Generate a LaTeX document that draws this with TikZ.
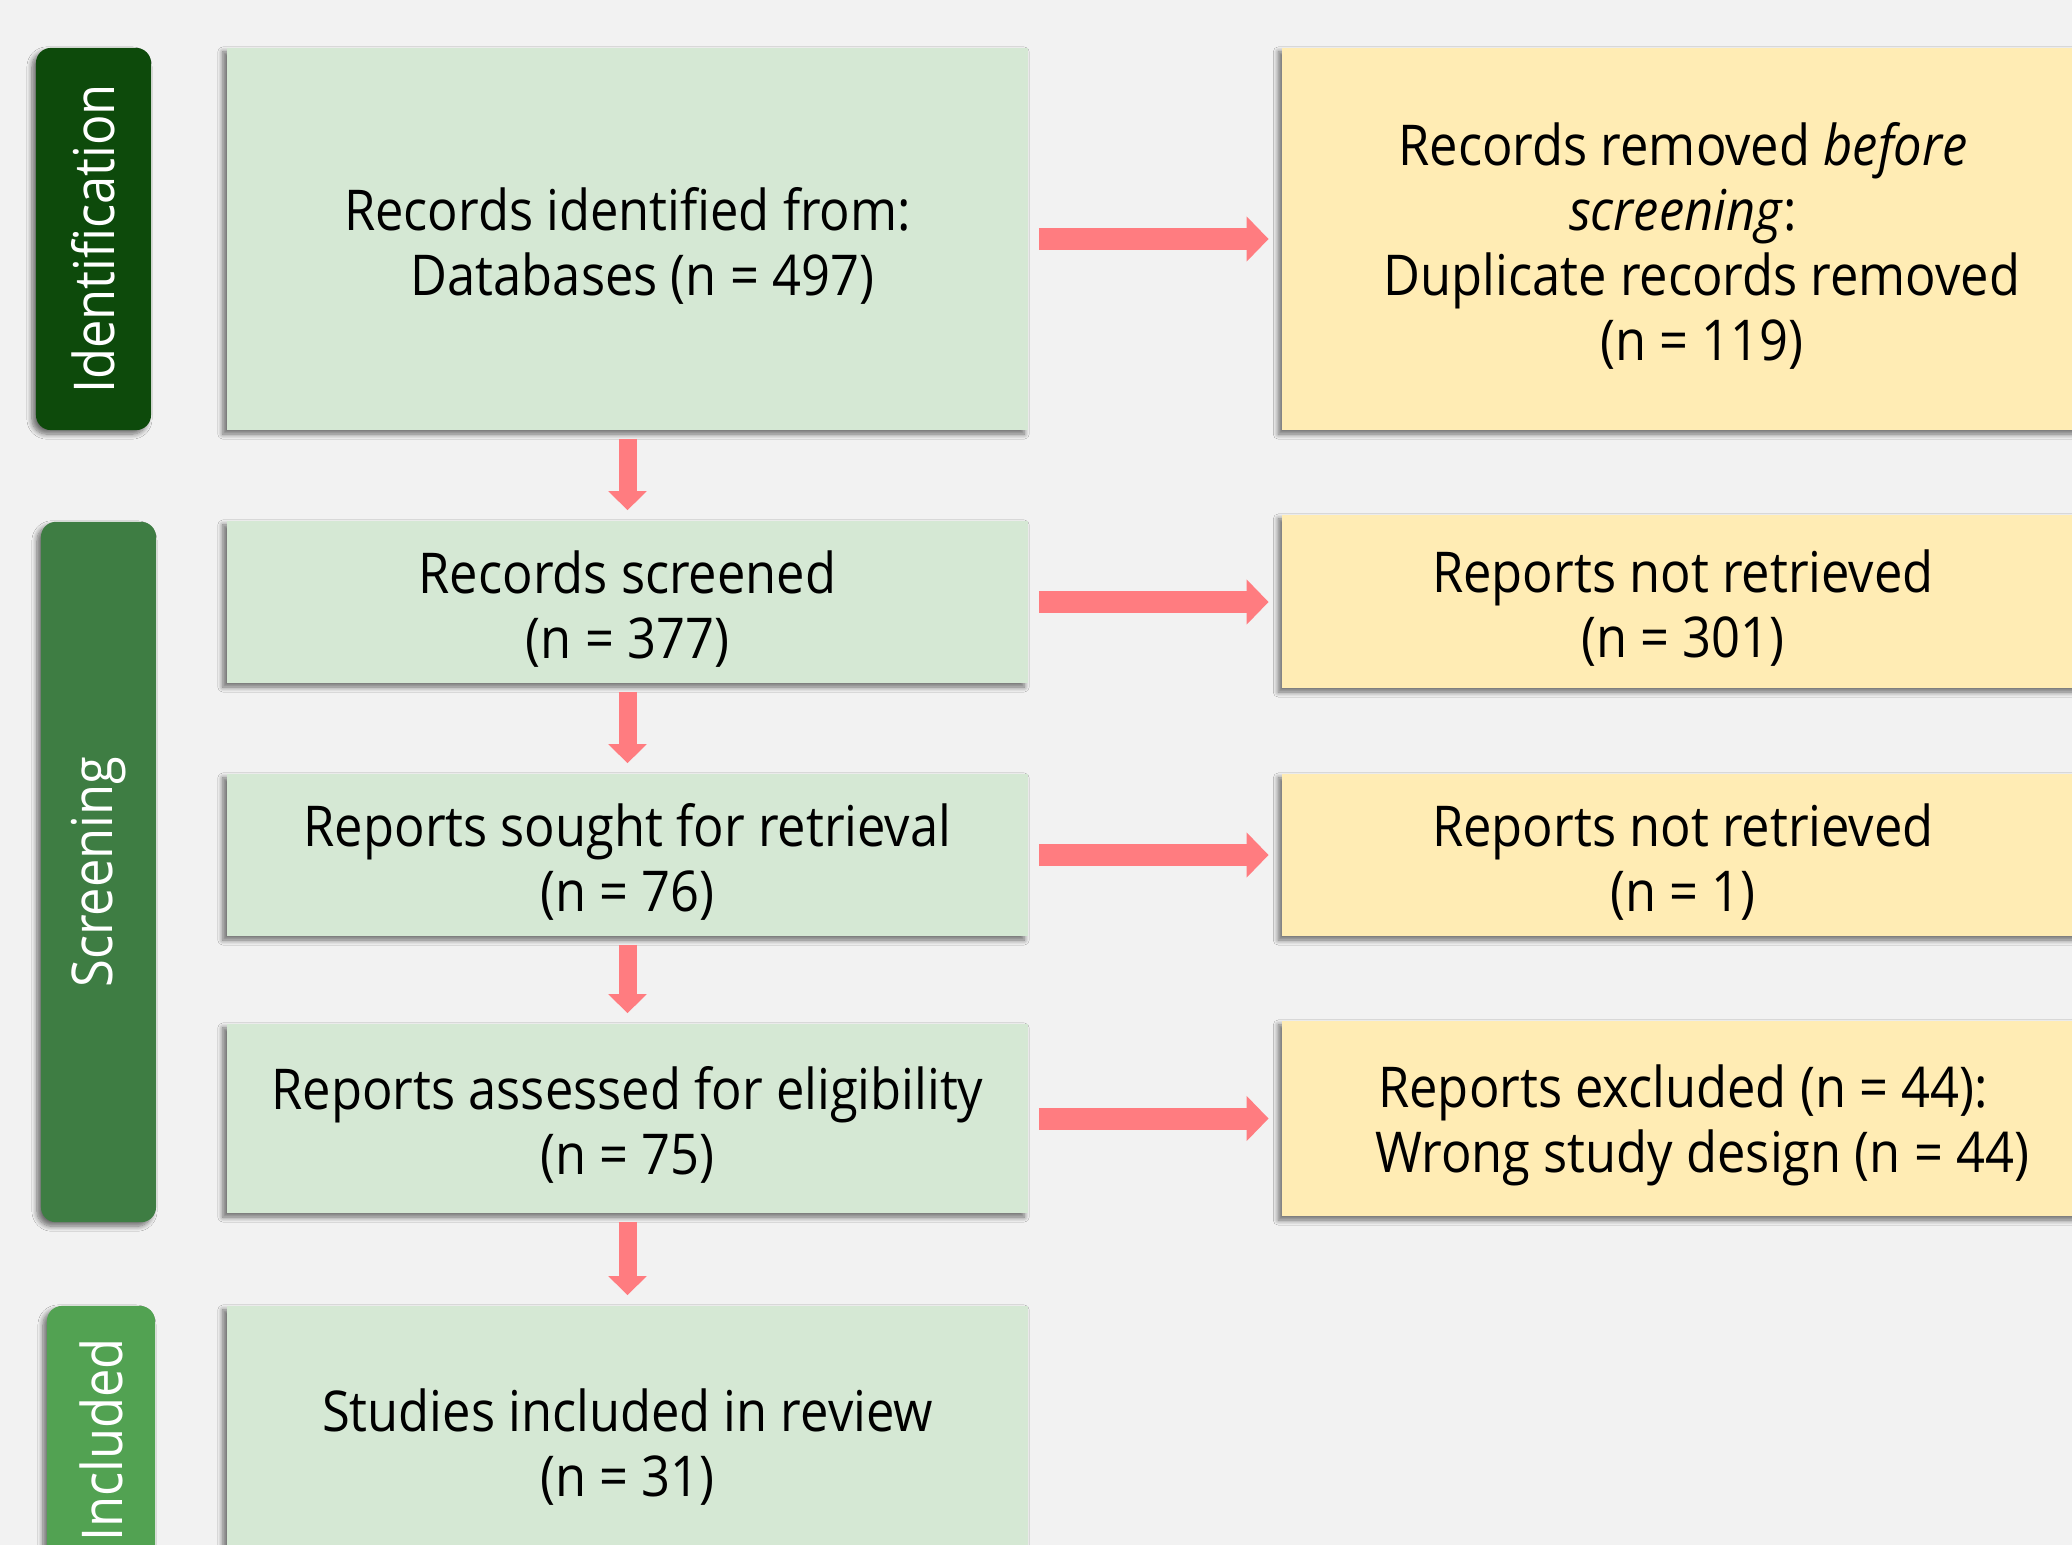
\documentclass[tikz,border=0pt]{standalone}
\usepackage{fontspec}
\setmainfont[FakeStretch=0.9]{Open Sans}
\usetikzlibrary{arrows.meta,shadows,shadows.blur,positioning}
\definecolor{bgcol}{HTML}{F2F2F2}
\definecolor{boxgreen}{HTML}{D5E8D4}
\definecolor{boxyellow}{HTML}{FFECB4}
\definecolor{arrowred}{HTML}{FF7C80}
\definecolor{phaseident}{HTML}{0D4A0B}
\definecolor{phasescreen}{HTML}{3E7D43}
\definecolor{phaseincl}{HTML}{52A252}
\newcommand\toplift{\rule{0pt}{16pt}}
\tikzset{
  softshadow/.style={blur shadow={shadow xshift=-0.04cm, shadow yshift=-0.04cm,
    shadow blur radius=0.05cm, shadow blur steps=8, shadow opacity=55}},
  stage/.style={rectangle, fill=boxgreen, minimum width=8.01cm, inner sep=0pt, align=center,
    font=\fontsize{16}{18.5}\selectfont, softshadow},
  outcome/.style={stage, fill=boxyellow},
  phase/.style={rectangle, rounded corners=0.15cm, text=white, inner sep=0pt,
    font=\fontsize{16}{18.5}\selectfont, softshadow},
  flowright/.style={arrowred, line width=0.22cm, -{Triangle[width=0.44cm,length=0.22cm]},
    shorten <=0.1cm, shorten >=0.13cm},
  flowdown/.style={arrowred, line width=0.18cm, -{Triangle[width=0.37cm,length=0.19cm]},
    shorten <=0.08cm, shorten >=0.1cm}
}

\begin{document}
\begin{tikzpicture}[x=0.01cm, y=-0.01cm]
\clip (0,0) rectangle (2072,1545);
\fill[bgcol] (0,0) rectangle (2072,1545);

% phase bars
\node[phase, fill=phaseident, minimum width=1.15cm, minimum height=3.82cm] (idn) at (93.5,239) {\rotatebox{90}{Identification}};
\node[phase, fill=phasescreen, minimum width=1.15cm, minimum height=7.00cm] (scr) at (98.5,872) {\rotatebox{90}{Screening}};
\node[phase, fill=phaseincl, minimum width=1.08cm, minimum height=2.68cm] (inc) at (101,1440) {\rotatebox{90}{Included}};

% main column
\node[stage, minimum height=3.82cm] (g1) at (627.5,239) {\toplift Records identified from:\\ \hspace*{0.3cm}Databases (n = 497)};
\node[stage, minimum height=1.62cm] (g2) at (627.5,602) {\toplift Records screened\\ (n = 377)};
\node[stage, minimum height=1.62cm] (g3) at (627.5,855) {\toplift Reports sought for retrieval\\ (n = 76)};
\node[stage, minimum height=1.89cm] (g4) at (627.5,1118.5) {\toplift Reports assessed for eligibility\\ (n = 75)};
\node[stage, minimum height=2.68cm] (g5) at (627.5,1440) {\toplift Studies included in review\\ (n = 31)};

% side column
\node[outcome, minimum height=3.82cm] (r1) at (1683,239) {\toplift Records removed \textit{before}\\ \textit{screening}:\\ \hspace*{0.38cm}Duplicate records removed\\ \hspace*{0.38cm}(n = 119)};
\node[outcome, minimum height=1.73cm] (r2) at (1683,601.5) {\toplift Reports not retrieved\\ (n = 301)};
\node[outcome, minimum height=1.62cm] (r3) at (1683,855) {\toplift Reports not retrieved\\ (n = 1)};
\node[outcome, minimum height=1.95cm] (r4) at (1683,1118.5) {\toplift Reports excluded (n = 44):\\ \hspace*{0.38cm}Wrong study design (n = 44)};

% arrows
\draw[flowdown] (g1) -- (g2);
\draw[flowdown] (g2) -- (g3);
\draw[flowdown] (g3) -- (g4);
\draw[flowdown] (g4) -- (g5);
\foreach \k in {1,...,4}
  \draw[flowright] (g\k.east) -- (g\k.east -| r\k.west);
\end{tikzpicture}
\end{document}
